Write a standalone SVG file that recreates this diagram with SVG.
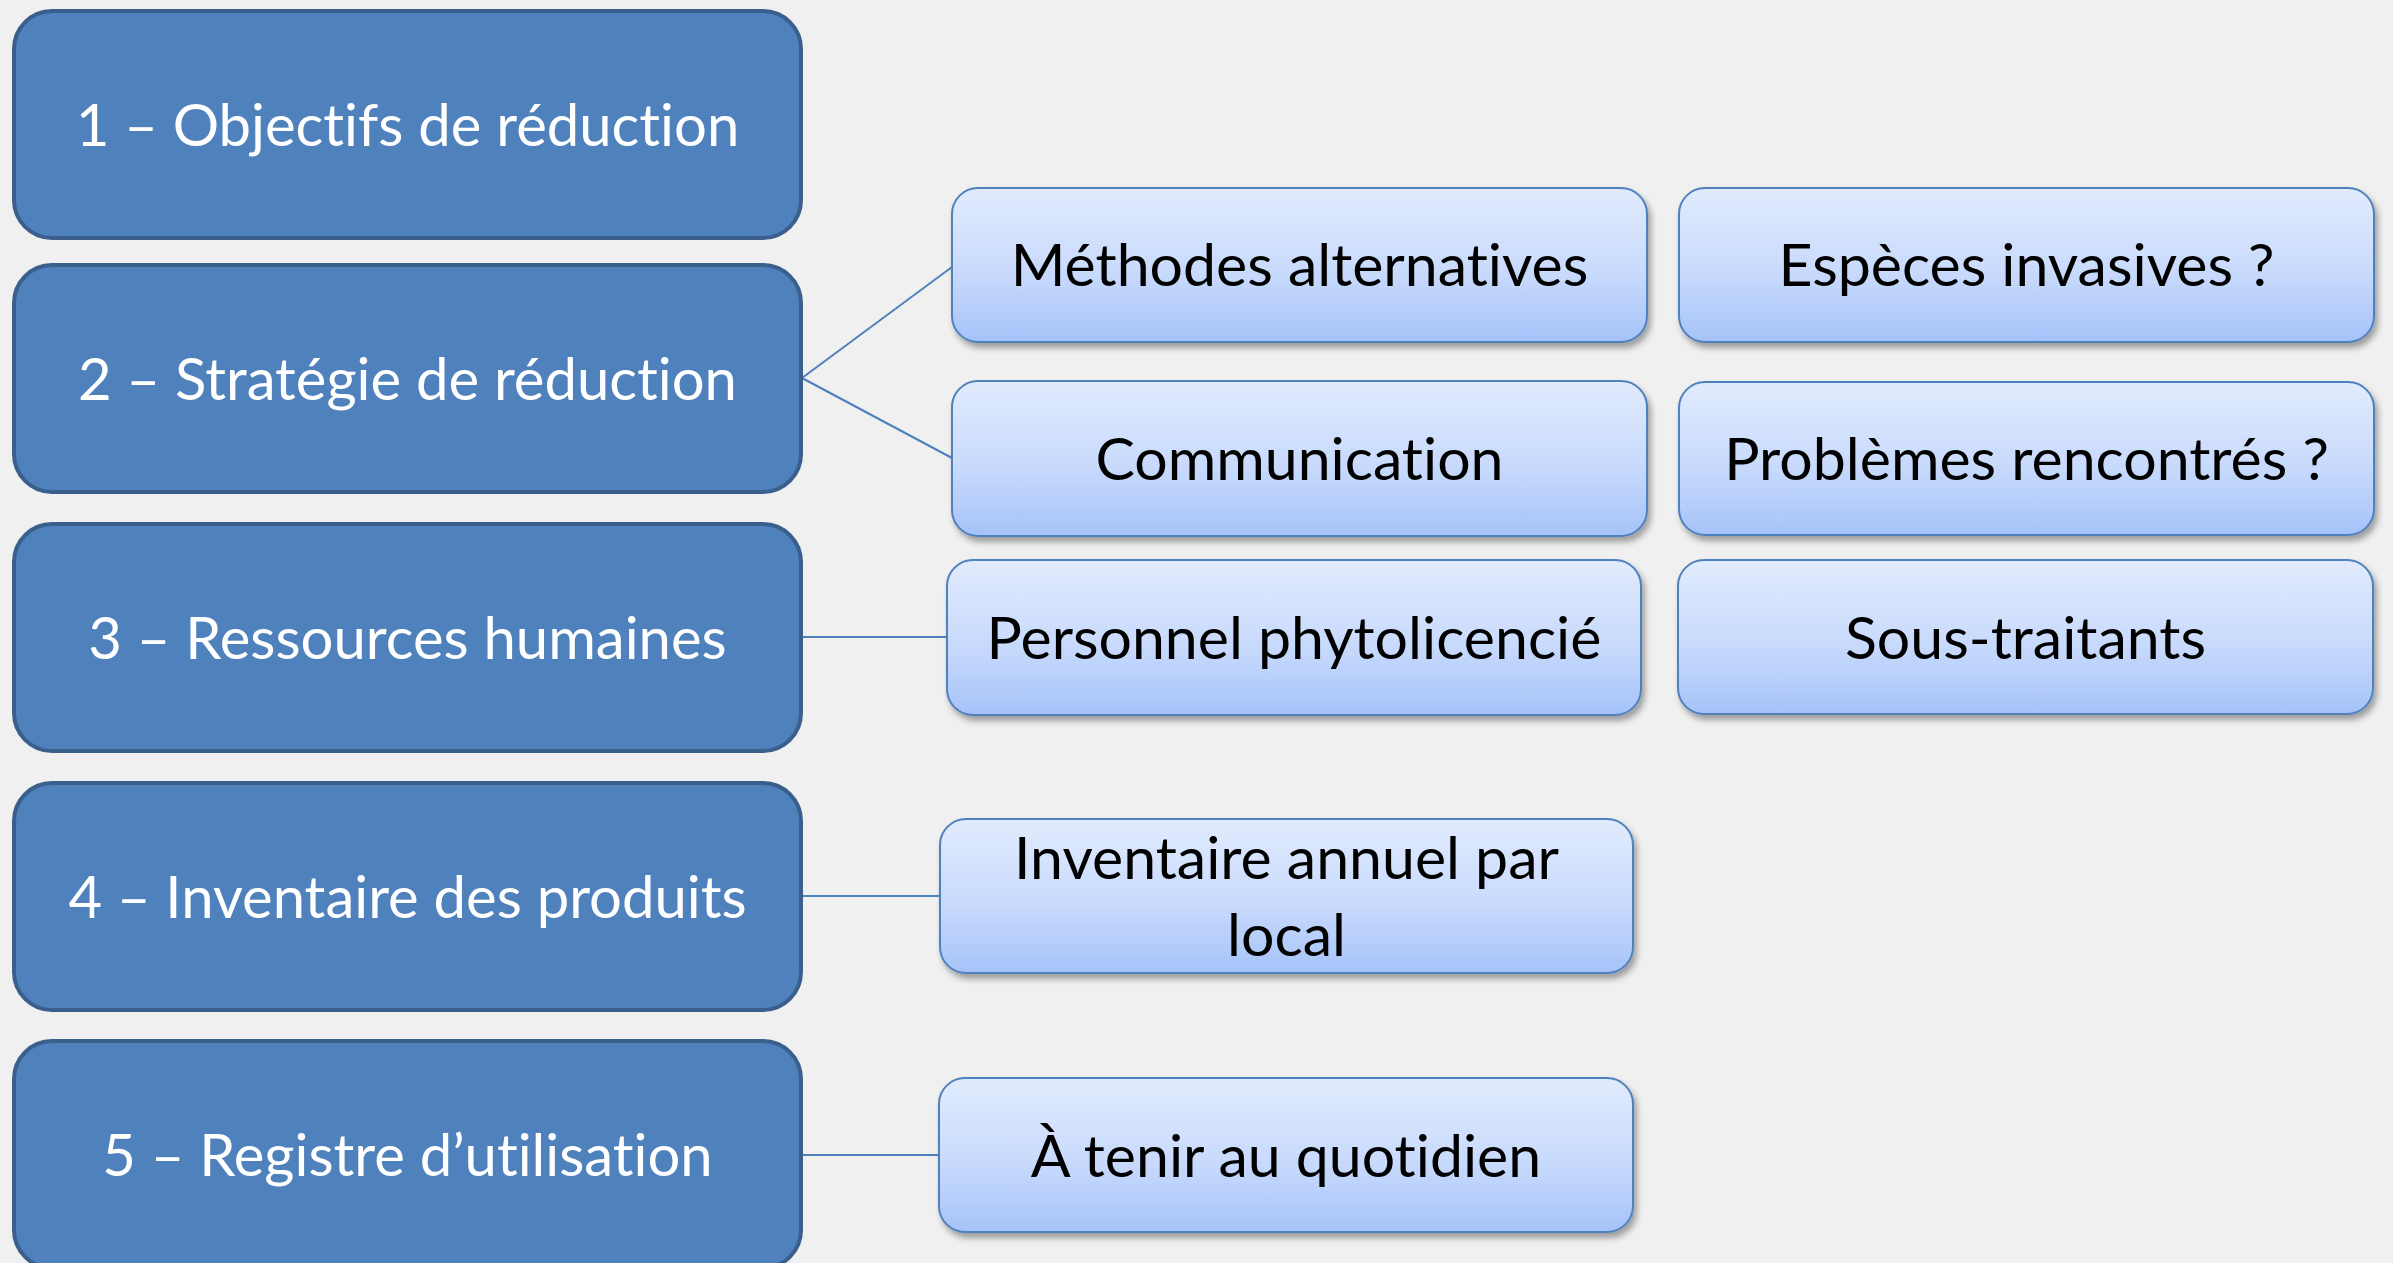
<svg xmlns="http://www.w3.org/2000/svg" width="2393" height="1263" viewBox="0 0 2393 1263">
<defs>
<linearGradient id="lg" x1="0" y1="0" x2="0" y2="1">
<stop offset="0" stop-color="#e1ebfd"/>
<stop offset="0.55" stop-color="#c8dafc"/>
<stop offset="1" stop-color="#a5c3f9"/>
</linearGradient>
<filter id="sh" x="-5%" y="-10%" width="112%" height="130%">
<feDropShadow dx="3" dy="5" stdDeviation="3" flood-color="#000" flood-opacity="0.35"/>
</filter>
<style>
text{font-variant-ligatures:none;font-family:Lato,"Open Sans",sans-serif;text-anchor:middle}
.main rect{fill:#4f81bd;stroke:#3a5f8c;stroke-width:4}
.main text{fill:#fff;font-size:58px}
.sub rect{fill:url(#lg);stroke:#4f81bd;stroke-width:2;filter:url(#sh)}
.sub text{fill:#000;font-size:59px}
.conn line{stroke:#4f81bd;stroke-width:2}
</style>
</defs>
<rect width="2393" height="1263" fill="#f0f0f0"/>
<g class="conn">
<line x1="802" y1="378" x2="952" y2="267"/>
<line x1="802" y1="378" x2="952" y2="458"/>
<line x1="802" y1="637" x2="947" y2="637"/>
<line x1="802" y1="896" x2="940" y2="896"/>
<line x1="802" y1="1155" x2="939" y2="1155"/>
</g>
<g id="n1" class="main"><rect x="14" y="11" width="787" height="227" rx="38"/><text x="407.5" y="146">1 – Objectifs de réduction</text></g>
<g id="n2" class="main"><rect x="14" y="265" width="787" height="227" rx="38"/><text x="407.5" y="400">2 – Stratégie de réduction</text></g>
<g id="n3" class="main"><rect x="14" y="524" width="787" height="227" rx="38"/><text x="407.5" y="659">3 – Ressources humaines</text></g>
<g id="n4" class="main"><rect x="14" y="783" width="787" height="227" rx="38"/><text x="407.5" y="918">4 – Inventaire des produits</text></g>
<g id="n5" class="main"><rect x="14" y="1041" width="787" height="227" rx="38"/><text x="407.5" y="1176">5 – Registre d’utilisation</text></g>
<g id="s1" class="sub"><rect x="952" y="188" width="695" height="154" rx="26"/><text x="1299.5" y="286">Méthodes alternatives</text></g>
<g id="s2" class="sub"><rect x="952" y="381" width="695" height="155" rx="26"/><text x="1299.5" y="480">Communication</text></g>
<g id="s3" class="sub"><rect x="1679" y="188" width="695" height="154" rx="26"/><text x="2026.5" y="286">Espèces invasives ?</text></g>
<g id="s4" class="sub"><rect x="1679" y="382" width="695" height="153" rx="26"/><text x="2026.5" y="480">Problèmes rencontrés ?</text></g>
<g id="s5" class="sub"><rect x="947" y="560" width="694" height="155" rx="26"/><text x="1294" y="659">Personnel phytolicencié</text></g>
<g id="s6" class="sub"><rect x="1678" y="560" width="695" height="154" rx="26"/><text x="2025.5" y="659">Sous-traitants</text></g>
<g id="s7" class="sub"><rect x="940" y="819" width="693" height="154" rx="26"/><text x="1286.5" y="879">Inventaire annuel par</text><text x="1286.5" y="956">local</text></g>
<g id="s8" class="sub"><rect x="939" y="1078" width="694" height="154" rx="26"/><text x="1286" y="1177">À tenir au quotidien</text></g>
</svg>
